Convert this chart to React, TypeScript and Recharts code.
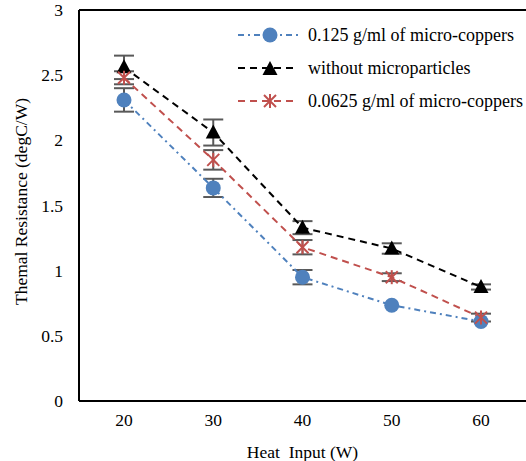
import React from "react";
import {
  LineChart,
  Line,
  XAxis,
  YAxis,
  ErrorBar,
  ReferenceLine,
} from "recharts";

const heatInput = [20, 30, 40, 50, 60];
const microCopper125 = [2.31, 1.635, 0.95, 0.735, 0.61];
const microCopper125Err = [0.09, 0.07, 0.055, 0.0, 0.0];
const withoutParticles = [2.56, 2.06, 1.33, 1.17, 0.875];
const withoutParticlesErr = [0.09, 0.1, 0.05, 0.04, 0.02];
const microCopper0625 = [2.48, 1.85, 1.18, 0.95, 0.64];
const microCopper0625Err = [0.05, 0.075, 0.055, 0.03, 0.03];
const yTicks = [0, 0.5, 1, 1.5, 2, 2.5, 3];

const data = heatInput.map((h, i) => ({
  heat: h,
  blue: microCopper125[i],
  blueErr: microCopper125Err[i],
  black: withoutParticles[i],
  blackErr: withoutParticlesErr[i],
  red: microCopper0625[i],
  redErr: microCopper0625Err[i],
}));

const FONT = "'Liberation Serif', 'Times New Roman', serif";
const BLUE = "#4F81BD";
const RED = "#C0504D";
const AXIS_FS = 17.5;

const Circle = (props: any) => {
  const { cx, cy } = props;
  if (cx == null || cy == null) return null;
  return <circle cx={cx} cy={cy} r={7.5} fill={BLUE} />;
};

const Triangle = (props: any) => {
  const { cx, cy } = props;
  if (cx == null || cy == null) return null;
  return (
    <path
      d={`M${cx},${cy - 8} L${cx + 7.5},${cy + 6} L${cx - 7.5},${cy + 6} Z`}
      fill="#000"
    />
  );
};

const Star = (props: any) => {
  const { cx, cy } = props;
  if (cx == null || cy == null) return null;
  const s = 6;
  return (
    <g stroke={RED} strokeWidth={2}>
      <line x1={cx - s} y1={cy - s} x2={cx + s} y2={cy + s} />
      <line x1={cx - s} y1={cy + s} x2={cx + s} y2={cy - s} />
      <line x1={cx} y1={cy - s - 1} x2={cx} y2={cy + s + 1} />
    </g>
  );
};

const XTick = (p: any) => (
  <text
    x={p.x}
    y={p.y}
    dy="0.71em"
    textAnchor="middle"
    fontFamily={FONT}
    fontSize={AXIS_FS}
    fill="#000"
  >
    {p.payload.value}
  </text>
);

const YTick = (p: any) => (
  <text
    x={p.x}
    y={p.y}
    dy="0.35em"
    textAnchor="end"
    fontFamily={FONT}
    fontSize={AXIS_FS}
    fill="#000"
  >
    {p.payload.value}
  </text>
);

const XTitle = (p: any) => {
  const vb = p.viewBox;
  return (
    <text
      x={vb.x + vb.width / 2}
      y={vb.y + 57}
      textAnchor="middle"
      fontFamily={FONT}
      fontSize={AXIS_FS}
      fill="#000"
      style={{ whiteSpace: "pre" }}
    >
      {"Heat\u00a0 Input (W)"}
    </text>
  );
};

const YTitle = (p: any) => {
  const vb = p.viewBox;
  const cx = 21;
  const cy = vb.y + vb.height / 2 - 4;
  return (
    <text
      x={cx}
      y={cy}
      dy="0.35em"
      transform={`rotate(-90, ${cx}, ${cy})`}
      textAnchor="middle"
      fontFamily={FONT}
      fontSize={AXIS_FS}
      fill="#000"
    >
      Themal Resistance (degC/W)
    </text>
  );
};

const legendItems = [
  { label: "0.125 g/ml of micro-coppers", color: BLUE, dash: "6 4 2 4", marker: "circle" },
  { label: "without microparticles", color: "#000", dash: "7 5", marker: "triangle" },
  { label: "0.0625 g/ml of micro-coppers", color: RED, dash: "7 5", marker: "star" },
];

// legend box sits inside the plot, top right, over a white background
const LegendBox = () => (
  <svg
    width={304}
    height={104}
    style={{ position: "absolute", left: 222, top: 14, background: "#fff", display: "block" }}
  >
    {legendItems.map((it, i) => {
      const y = 21 + i * 33;
      const mx = 48;
      return (
        <g key={it.label}>
          <line
            x1={16}
            y1={y}
            x2={76}
            y2={y}
            stroke={it.color}
            strokeWidth={2}
            strokeDasharray={it.dash}
          />
          {it.marker === "circle" && <Circle cx={mx} cy={y} />}
          {it.marker === "triangle" && <Triangle cx={mx} cy={y + 1} />}
          {it.marker === "star" && <Star cx={mx} cy={y} />}
          <text x={86} y={y + 6} fontFamily={FONT} fontSize={18} fill="#000">
            {it.label}
          </text>
        </g>
      );
    })}
  </svg>
);

export default function App() {
  return (
    <div
      style={{
        position: "absolute",
        left: 0,
        top: 0,
        width: 526,
        height: 461,
        background: "#fff",
      }}
    >
      <LineChart
        width={526}
        height={461}
        data={data}
        margin={{ top: 10, right: 0, bottom: 0, left: 0 }}
      >
        <XAxis
          dataKey="heat"
          type="category"
          padding={{ left: 45, right: 45 }}
          axisLine={{ stroke: "#000", strokeWidth: 2 }}
          tickLine={false}
          tickSize={0}
          tickMargin={13}
          height={60}
          tick={<XTick />}
          label={<XTitle />}
        />
        <YAxis
          domain={[0, 3]}
          ticks={yTicks}
          width={79}
          axisLine={{ stroke: "#000", strokeWidth: 2 }}
          tickLine={false}
          tickSize={0}
          tickMargin={16}
          tick={<YTick />}
          label={<YTitle />}
        />
        <ReferenceLine y={3} stroke="#000" strokeWidth={2} />
        <Line
          dataKey="blue"
          stroke={BLUE}
          strokeWidth={2}
          strokeDasharray="6 4 2 4"
          dot={<Circle />}
          activeDot={false}
          isAnimationActive={false}
        >
          <ErrorBar dataKey="blueErr" width={10} stroke="#595959" strokeWidth={2} direction="y" />
        </Line>
        <Line
          dataKey="black"
          stroke="#000"
          strokeWidth={2}
          strokeDasharray="7 5"
          dot={<Triangle />}
          activeDot={false}
          isAnimationActive={false}
        >
          <ErrorBar dataKey="blackErr" width={10} stroke="#595959" strokeWidth={2} direction="y" />
        </Line>
        <Line
          dataKey="red"
          stroke={RED}
          strokeWidth={2}
          strokeDasharray="7 5"
          dot={<Star />}
          activeDot={false}
          isAnimationActive={false}
        >
          <ErrorBar dataKey="redErr" width={10} stroke="#595959" strokeWidth={2} direction="y" />
        </Line>
      </LineChart>
      <LegendBox />
    </div>
  );
}
